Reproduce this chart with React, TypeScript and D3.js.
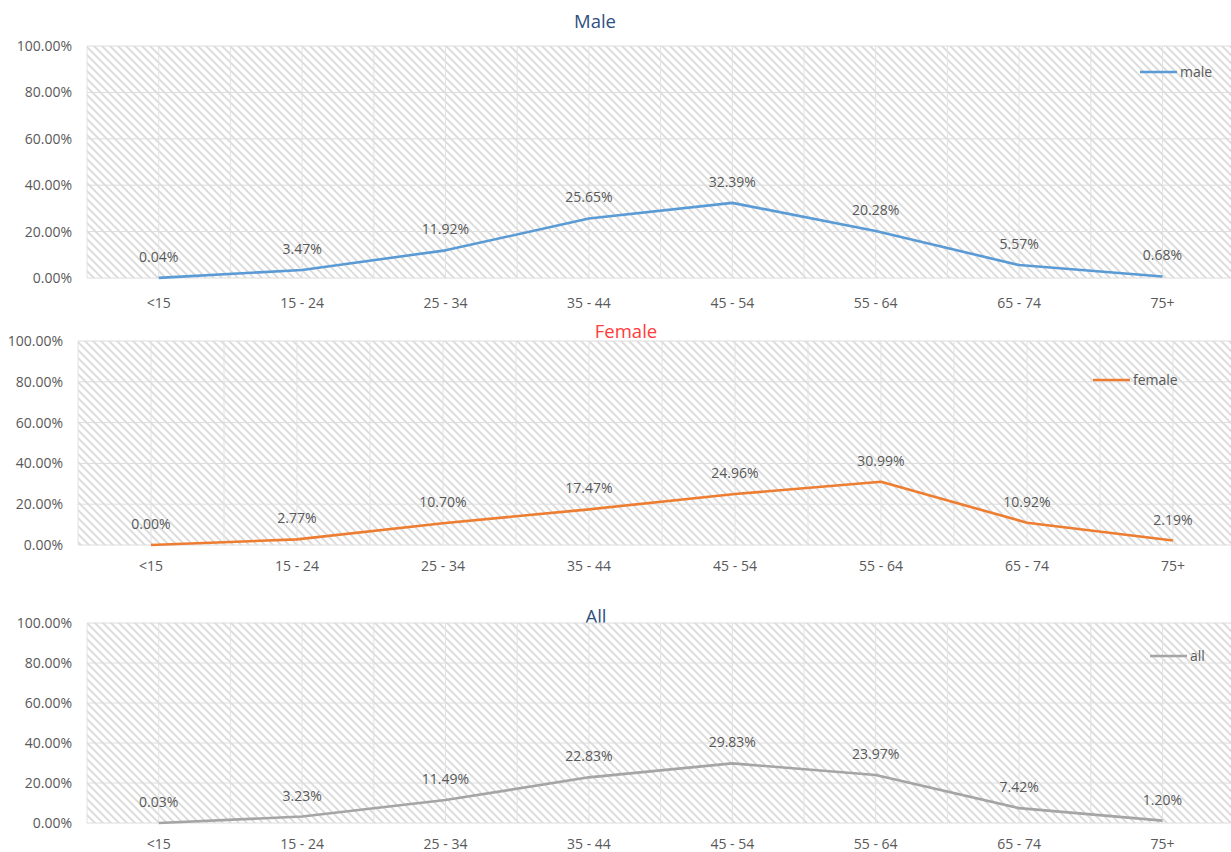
import React from "react";
import * as d3 from "d3";

const categories = ["<15", "15 - 24", "25 - 34", "35 - 44", "45 - 54", "55 - 64", "65 - 74", "75+"];
const maleValues = [0.04, 3.47, 11.92, 25.65, 32.39, 20.28, 5.57, 0.68];
const femaleValues = [0.0, 2.77, 10.7, 17.47, 24.96, 30.99, 10.92, 2.19];
const allValues = [0.03, 3.23, 11.49, 22.83, 29.83, 23.97, 7.42, 1.2];
const yTicks = [0, 20, 40, 60, 80, 100];

const FONT = "'Open Sans', 'Liberation Sans', sans-serif";
const TEXT = "#595959";

type Panel = {
  title: string;
  titleColor: string;
  titleX: number;
  titleY: number;
  name: string;
  values: number[];
  color: string;
  x0: number;
  band: number;
  top: number;
  bottom: number;
  yLabelRight: number;
  xLabelY: number;
  legendX: number;
  legendY: number;
};

const panels: Panel[] = [
  {
    title: "Male", titleColor: "#2F4F7F", titleX: 595, titleY: 28,
    name: "male", values: maleValues, color: "#5B9BD5",
    x0: 87, band: 143.4, top: 46, bottom: 278, yLabelRight: 72, xLabelY: 308,
    legendX: 1140, legendY: 72,
  },
  {
    title: "Female", titleColor: "#FF3B3B", titleX: 626, titleY: 338,
    name: "female", values: femaleValues, color: "#ED7D31",
    x0: 78, band: 146, top: 341, bottom: 545, yLabelRight: 63, xLabelY: 571,
    legendX: 1093, legendY: 380,
  },
  {
    title: "All", titleColor: "#2F4F7F", titleX: 596, titleY: 623,
    name: "all", values: allValues, color: "#A5A5A5",
    x0: 87, band: 143.4, top: 623, bottom: 823, yLabelRight: 72, xLabelY: 849,
    legendX: 1150, legendY: 656,
  },
];

function Chart({ p, idx }: { p: Panel; idx: number }) {
  const x = d3
    .scaleBand<string>()
    .domain(categories)
    .range([p.x0, p.x0 + p.band * categories.length])
    .padding(0);
  const y = d3.scaleLinear().domain([0, 100]).range([p.bottom, p.top]);
  const cx = (c: string) => (x(c) as number) + x.bandwidth() / 2;
  const line = d3
    .line<number>()
    .x((_, i) => cx(categories[i]))
    .y((v) => y(v));
  const right = Math.min(1231, p.x0 + p.band * categories.length);
  const vlines: number[] = [];
  categories.forEach((c) => {
    vlines.push(x(c) as number);
    vlines.push(cx(c));
  });
  vlines.push(p.x0 + p.band * categories.length);
  const pid = `hatch${idx}`;
  return (
    <g>
      <defs>
        <pattern id={pid} patternUnits="userSpaceOnUse" width={8} height={8}>
          <rect width={8} height={8} fill="#fff" />
          <path d="M-2,-2 L10,10 M-2,6 L2,10 M6,-2 L10,2" stroke="#dadada" strokeWidth={1.8} />
        </pattern>
      </defs>
      <text x={p.titleX} y={p.titleY} fill={p.titleColor} fontSize={18.5} textAnchor="middle" fontFamily={FONT}>
        {p.title}
      </text>
      <rect x={p.x0} y={p.top} width={right - p.x0} height={p.bottom - p.top} fill={`url(#${pid})`} />
      {vlines.filter((v) => v <= 1231).map((v, i) => (
        <line key={`v${i}`} x1={v} x2={v} y1={p.top} y2={p.bottom} stroke="#e2e2e2" strokeWidth={1} />
      ))}
      {yTicks.map((t) => (
        <g key={`h${t}`}>
          <line x1={p.x0} x2={right} y1={y(t)} y2={y(t)} stroke="#dcdcdc" strokeWidth={1} />
          <text x={p.yLabelRight} y={y(t) + 5} fill={TEXT} fontSize={14} textAnchor="end" fontFamily={FONT}>
            {d3.format(".2f")(t) + "%"}
          </text>
        </g>
      ))}
      {categories.map((c) => (
        <text key={c} x={cx(c)} y={p.xLabelY} fill={TEXT} fontSize={14} textAnchor="middle" fontFamily={FONT}>
          {c}
        </text>
      ))}
      <path d={line(p.values) || ""} fill="none" stroke={p.color} strokeWidth={2.6} strokeLinejoin="round" />
      {p.values.map((v, i) => (
        <text key={`l${i}`} x={cx(categories[i])} y={y(v) - 16} fill={TEXT} fontSize={14} textAnchor="middle" fontFamily={FONT}>
          {d3.format(".2f")(v) + "%"}
        </text>
      ))}
      <line x1={p.legendX} x2={p.legendX + 37} y1={p.legendY} y2={p.legendY} stroke={p.color} strokeWidth={2.6} />
      <text x={p.legendX + 40} y={p.legendY + 5} fill={TEXT} fontSize={14} fontFamily={FONT}>
        {p.name}
      </text>
    </g>
  );
}

export default function App() {
  return (
    <svg
      width={1231}
      height={852}
      style={{ position: "absolute", left: 0, top: 0, background: "#fff" }}
    >
      <rect width={1231} height={852} fill="#fff" />
      {panels.map((p, i) => (
        <Chart key={p.name} p={p} idx={i} />
      ))}
    </svg>
  );
}
